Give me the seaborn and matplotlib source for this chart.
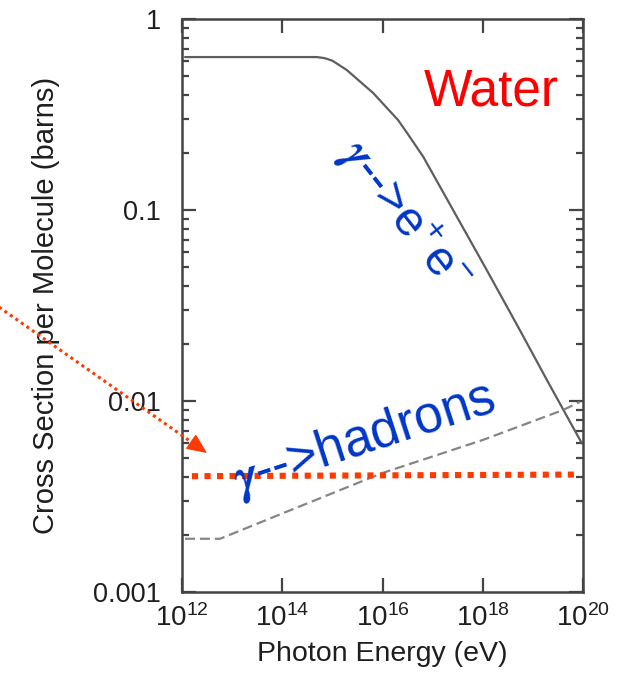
import numpy as np
import pandas as pd
import matplotlib
matplotlib.use("Agg")
import matplotlib.pyplot as plt
from matplotlib.lines import Line2D
from matplotlib.ticker import FixedLocator, FixedFormatter, NullLocator, LogLocator
import seaborn as sns

# ---- data ----
pair_energy = [1.15e12, 4.9e14, 7.0e14, 1.0e15, 1.95e15, 6.5e15, 2.04e16, 3.1e16,
               6.5e16, 1.2e18, 5.5e18, 1.9e19, 9.5e19]
pair_xsec = [0.632, 0.632, 0.624, 0.605, 0.54, 0.41, 0.296, 0.253,
             0.19, 0.0485, 0.0235, 0.0129, 0.006]

hadron_energy = [1.15e12, 5.75e12, 1.05e14, 1.0e16, 1.0e18, 4.0e19, 8.7e19]
hadron_xsec = [0.0019, 0.0019, 0.00259, 0.0042, 0.00625, 0.00897, 0.0099]

ref_energy = [1.58e12, 7.9e19]
ref_xsec = [0.00404, 0.00412]

x_ticks = [1e12, 1e14, 1e16, 1e18, 1e20]
y_ticks = [0.001, 0.01, 0.1, 1]
y_tick_labels = ["0.001", "0.01", "0.1", "1"]

W, H = 633, 686
sns.set_style("ticks")
plt.rcParams["font.family"] = ["Liberation Sans", "DejaVu Sans"]
plt.rcParams["mathtext.fontset"] = "custom"
plt.rcParams["mathtext.rm"] = "Liberation Sans"
plt.rcParams["mathtext.it"] = "STIXGeneral:italic:bold"
plt.rcParams["mathtext.bf"] = "Liberation Sans:bold"

fig = plt.figure(figsize=(W / 100, H / 100), dpi=100)
ax = fig.add_axes([182 / W, 1 - 592 / H, (583 - 182) / W, (592 - 19) / H])

pair_df = pd.DataFrame({"energy": pair_energy, "xsec": pair_xsec})
had_df = pd.DataFrame({"energy": hadron_energy, "xsec": hadron_xsec})
ref_df = pd.DataFrame({"energy": ref_energy, "xsec": ref_xsec})

sns.lineplot(data=pair_df, x="energy", y="xsec", ax=ax, color="#5e5e5e",
             lw=1.6, estimator=None, sort=True)
sns.lineplot(data=had_df, x="energy", y="xsec", ax=ax, color="#858585",
             lw=1.6, estimator=None, sort=True)
ax.lines[-1].set_dashes((4.5, 2.2))
sns.lineplot(data=ref_df, x="energy", y="xsec", ax=ax, color="#ff3a00",
             lw=4.4, estimator=None, sort=True)
ax.lines[-1].set_linestyle((0, (1, 1.05)))
ax.lines[-1].set_dash_capstyle("butt")

ax.set_xscale("log")
ax.set_yscale("log")
ax.set_xlim(1e12, 1e20)
ax.set_ylim(0.001, 1)

ax.xaxis.set_major_locator(FixedLocator(x_ticks))
ax.xaxis.set_minor_locator(NullLocator())
ax.yaxis.set_major_locator(FixedLocator(y_ticks))
ax.yaxis.set_major_formatter(FixedFormatter(y_tick_labels))
ax.yaxis.set_minor_locator(LogLocator(base=10, subs=np.arange(2, 10)))
ax.yaxis.set_minor_formatter(FixedFormatter([]))

frame_c = "#444444"
for s in ax.spines.values():
    s.set_color(frame_c)
    s.set_linewidth(1.8)
ax.tick_params(which="both", direction="in", top=True, right=True, color=frame_c,
               width=1.6)
ax.tick_params(which="major", length=10)
ax.tick_params(which="minor", length=5)
ax.tick_params(axis="x", which="major", labelsize=20, pad=9, labelcolor="#1e1e1e")
ax.tick_params(axis="y", which="major", labelsize=19.5, pad=15, labelcolor="#1e1e1e")

ax.set_xlabel("Photon Energy (eV)", fontsize=20.5, color="#1e1e1e", labelpad=6)
ax.set_ylabel("Cross Section per Molecule (barns)", fontsize=21, color="#1e1e1e",
              labelpad=24)

def fx(px):
    return px / W

def fy(py):
    return 1 - py / H

fig.text(fx(491), fy(92), "Water", color="#ff0000", fontsize=37,
         ha="center", va="center")
fig.text(fx(405), fy(216), r"$\gamma$-->e$^{+}$e$^{-}$", color="#0036c8",
         fontsize=35, ha="center", va="center", rotation=-52,
         rotation_mode="anchor")
fig.text(fx(364), fy(440), r"$\gamma$-->hadrons", color="#0036c8",
         fontsize=37, ha="center", va="center", rotation=18,
         rotation_mode="anchor")

# dotted pointer line plus solid arrowhead
start = (-4, H - 305)
tip = (207, H - 453)
vec = np.array(tip) - np.array(start)
unit = vec / np.hypot(*vec)
base = np.array(tip) - unit * 16
fig.add_artist(Line2D([start[0], base[0] + unit[0] * 4], [start[1], base[1] + unit[1] * 4],
                      transform=None, color="#ff3a00", lw=2.2,
                      linestyle=(0, (1, 1.2))))
ax.annotate("", xy=tip, xycoords="figure pixels",
            xytext=tuple(base), textcoords="figure pixels",
            annotation_clip=False,
            arrowprops=dict(arrowstyle="-|>,head_length=0.9,head_width=0.4",
                            color="#ff3a00", lw=1.0,
                            mutation_scale=14, shrinkA=0, shrinkB=0))

fig.savefig("out.png", dpi=100)
